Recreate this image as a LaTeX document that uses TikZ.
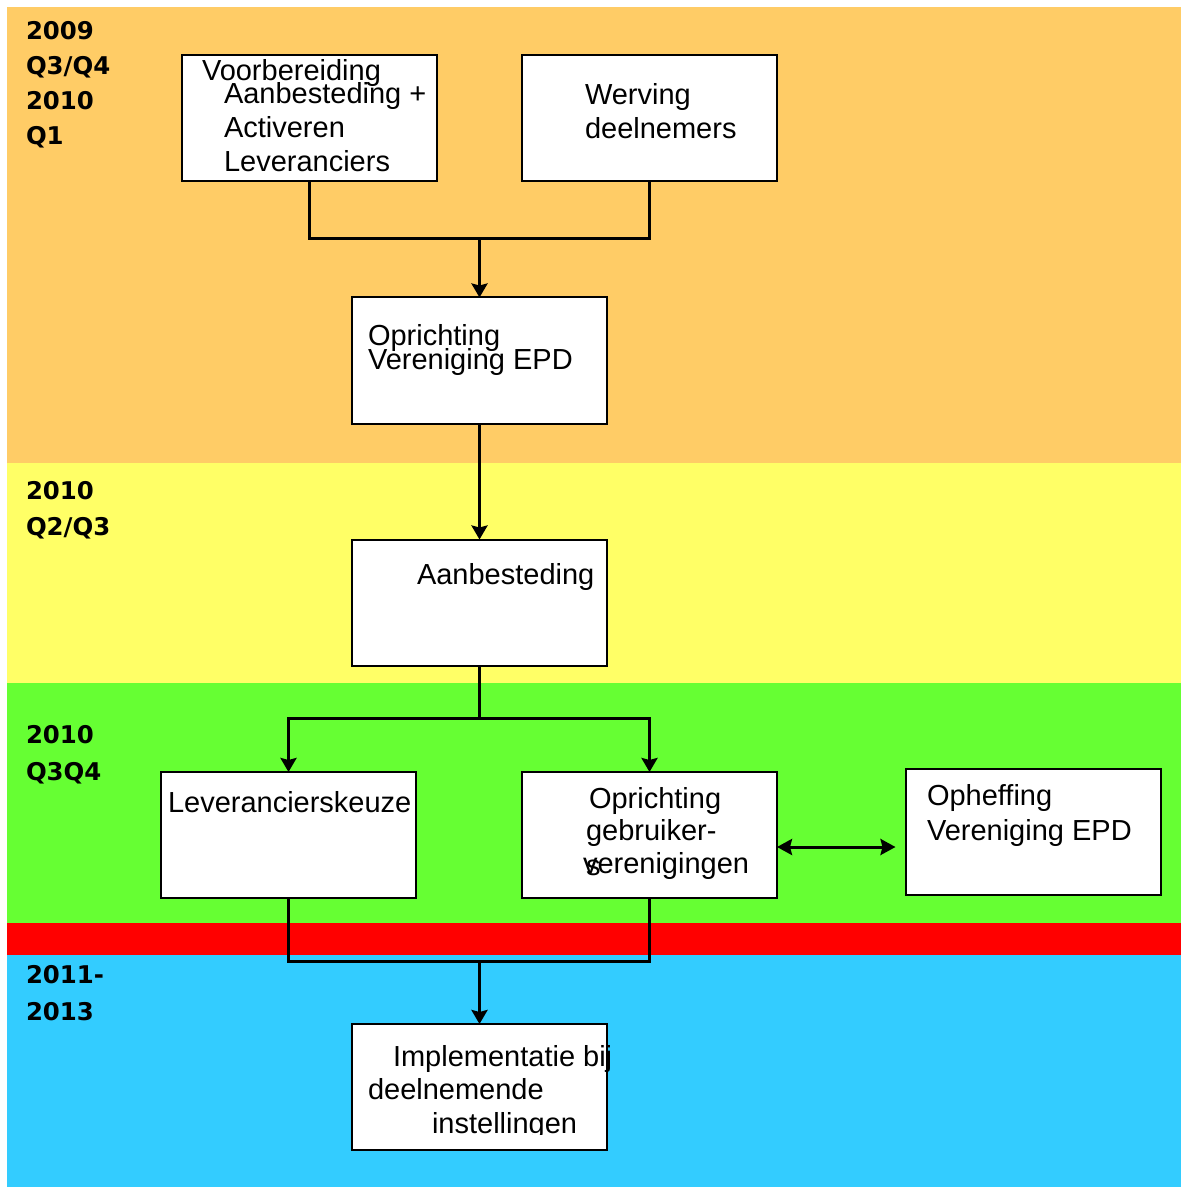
\documentclass[tikz,border=0pt]{standalone}
\usepackage{fontspec}
\setmainfont{Liberation Sans}
\newfontfamily\labfont{DejaVu Sans}
\usetikzlibrary{arrows.meta}
\definecolor{bandorange}{RGB}{255,204,102}
\definecolor{bandyellow}{RGB}{255,255,102}
\definecolor{bandgreen}{RGB}{102,255,51}
\definecolor{bandred}{RGB}{255,0,0}
\definecolor{bandblue}{RGB}{51,204,255}
\tikzset{
  stepbox/.style={draw=black, fill=white, line width=1pt, minimum width=127.5pt, minimum height=63pt, inner sep=0pt, outer sep=0pt},
  boxtxt/.style={anchor=base west, inner sep=0pt, outer sep=0pt, font=\fontsize{14.5}{17}\selectfont},
  labtxt/.style={anchor=base west, inner sep=0pt, outer sep=0pt, font=\labfont\bfseries\fontsize{12.2}{17}\selectfont},
  conn/.style={line width=1.5pt},
  arr/.style={conn, -{Stealth[length=7pt,width=8pt,inset=1pt]}},
  darr/.style={conn, {Stealth[length=7.5pt,width=8pt,inset=1pt]}-{Stealth[length=7.5pt,width=8pt,inset=1pt]}}
}
\begin{document}
\begin{tikzpicture}[x=0.5pt,y=-0.5pt]
\useasboundingbox (0,0) rectangle (1181,1187);
\fill[white] (0,0) rectangle (1181,1187);
% bands
\fill[bandorange] (7,7) rectangle (1181,463);
\fill[bandyellow] (7,463) rectangle (1181,683);
\fill[bandgreen] (7,683) rectangle (1181,923);
\fill[bandred] (7,923) rectangle (1181,955);
\fill[bandblue] (7,955) rectangle (1181,1187);
% period labels
\node[labtxt] (l1a) at (26,40) {2009};
\node[labtxt] (l1b) at (26,75) {Q3/Q4};
\node[labtxt] (l1c) at (26,110) {2010};
\node[labtxt] (l1d) at (26,145) {Q1};
\node[labtxt] (l2a) at (26,499) {2010};
\node[labtxt] (l2b) at (26,535) {Q2/Q3};
\node[labtxt] (l3a) at (26,743) {2010};
\node[labtxt] (l3b) at (26,780) {Q3Q4};
\node[labtxt] (l4a) at (26,983) {2011-};
\node[labtxt] (l4b) at (26,1020) {2013};
% boxes
\node[stepbox] (b1) at (309.5,118) {};
\node[stepbox] (b2) at (649.5,118) {};
\node[stepbox] (b3) at (479.5,360.5) {};
\node[stepbox] (b4) at (479.5,602.5) {};
\node[stepbox] (b5) at (288.5,835) {};
\node[stepbox] (b6) at (649.5,835) {};
\node[stepbox] (b7) at (1033,831.5) {};
\node[stepbox] (b8) at (479.5,1087) {};
% box texts
\node[boxtxt] (t1a) at (202,81) {Voorbereiding};
\node[boxtxt] (t1b) at (224,104) {Aanbesteding +};
\node[boxtxt] (t1c) at (224,138) {Activeren};
\node[boxtxt] (t1d) at (224,172) {Leveranciers};
\node[boxtxt] (t2a) at (585,105) {Werving};
\node[boxtxt] (t2b) at (585,139) {deelnemers};
\node[boxtxt] (t3a) at (368,345) {Oprichting};
\node[boxtxt] (t3b) at (368,369) {Vereniging EPD};
\node[boxtxt] (t4a) at (417,584) {Aanbesteding};
\node[boxtxt] (t5a) at (168,812) {Leverancierskeuze};
\node[boxtxt] (t6a) at (589,808) {Oprichting};
\node[boxtxt] (t6b) at (586,840) {gebruiker-};
\node[boxtxt] (t6c) at (583,873) {verenigingen};
\node[boxtxt] (t6d) at (586,875) {s};
\node[boxtxt] (t7a) at (927,805) {Opheffing};
\node[boxtxt] (t7b) at (927,840) {Vereniging EPD};
\node[boxtxt] (t8a) at (393,1066) {Implementatie bij};
\node[boxtxt] (t8b) at (368,1099) {deelnemende};
\begin{scope}
\clip (352,1024) rectangle (700,1134);
\node[boxtxt] (t8c) at (432,1133) {instellingen};
\end{scope}
% junctions
\coordinate (j1) at (479.5,239);
\coordinate (j2) at (479.5,718);
\coordinate (j3) at (479.5,961);
% connectors
\draw[conn] (b1.south) |- (j1) -| (b2.south);
\draw[arr] (j1) -- (b3.north);
\draw[arr] (b3.south) -- (b4.north);
\draw[conn] (b4.south) -- (j2);
\draw[arr] (j2) -| (b5.north);
\draw[arr] (j2) -| (b6.north);
\draw[conn] (b5.south) |- (j3) -| (b6.south);
\draw[arr] (j3) -- (b8.north);
\draw[darr] ([yshift=-6pt]b6.east) -- ([xshift=-5pt,yshift=-6pt]b6.east -| b7.west);
\end{tikzpicture}
\end{document}
